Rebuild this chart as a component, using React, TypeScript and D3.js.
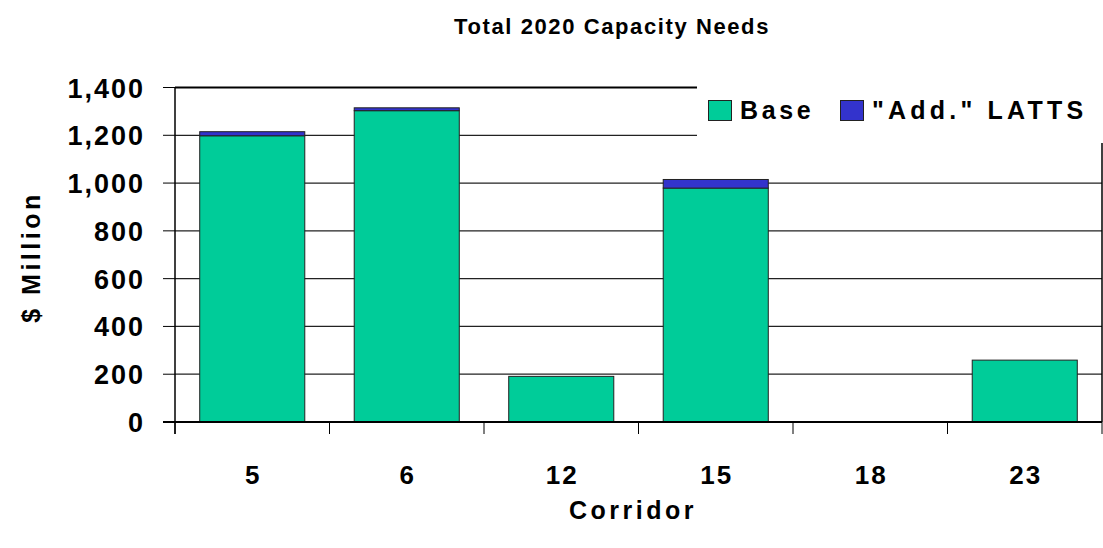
import React from "react";
import * as d3 from "d3";

const corridors = ["5", "6", "12", "15", "18", "23"];
const baseValues = [1198, 1303, 191, 979, 0, 259];
const addValues = [17, 12, 0, 36, 0, 0];
const yTicks = [0, 200, 400, 600, 800, 1000, 1200, 1400];
const seriesNames = ["Base", "\"Add.\" LATTS"];
const seriesColors = ["#00CC99", "#3333CC"];

const W = 1103;
const H = 548;
const left = 175;
const right = 1102;
const top = 87.5;
const bottom = 422;
const font = "'Liberation Sans', Arial, sans-serif";

export default function App() {
  const x = d3.scaleBand<string>().domain(corridors).range([left, right]).paddingInner(0.32).paddingOuter(0.16);
  const y = d3.scaleLinear().domain([0, 1400]).range([bottom, top]);
  const step = x.step();
  const fmt = d3.format(",");

  return (
    <div style={{ position: "absolute", left: 0, top: 0 }}>
      <svg width={W} height={H} style={{ display: "block", background: "#fff" }}>
        <text x={612} y={34} textAnchor="middle" fontFamily={font} fontWeight="bold" fontSize={22} letterSpacing={1.6}>
          Total 2020 Capacity Needs
        </text>

        {/* gridlines */}
        {yTicks.filter((t) => t > 0).map((t) => (
          <line key={t} x1={left} x2={right} y1={y(t)} y2={y(t)} stroke={t === 1400 ? "#000" : "#222"} strokeWidth={t === 1400 ? 2 : 1.2} />
        ))}
        <line x1={right} x2={right} y1={top} y2={bottom} stroke="#000" strokeWidth={1.5} />

        {/* stacked bars */}
        {corridors.map((c, i) => {
          const bx = x(c)!;
          const bw = x.bandwidth();
          const b = baseValues[i];
          const a = addValues[i];
          return (
            <g key={c}>
              {b > 0 && (
                <rect x={bx} y={y(b)} width={bw} height={y(0) - y(b)} fill={seriesColors[0]} stroke="#222" strokeWidth={1} />
              )}
              {a > 0 && (
                <rect x={bx} y={y(b + a)} width={bw} height={y(b) - y(b + a)} fill={seriesColors[1]} stroke="#222" strokeWidth={1} />
              )}
            </g>
          );
        })}

        {/* legend */}
        <rect x={697} y={80} width={406} height={63} fill="#fff" />
        <rect x={708.5} y={100.5} width={23} height={20} fill={seriesColors[0]} stroke="#222" strokeWidth={1} />
        <text x={740} y={119} fontFamily={font} fontWeight="bold" fontSize={25} letterSpacing={3.6}>
          {seriesNames[0]}
        </text>
        <rect x={840.5} y={100.5} width={23} height={20} fill={seriesColors[1]} stroke="#222" strokeWidth={1} />
        <text x={872} y={119} fontFamily={font} fontWeight="bold" fontSize={25} letterSpacing={4.2}>
          {seriesNames[1]}
        </text>

        {/* y axis */}
        <line x1={left} x2={left} y1={top} y2={bottom + 12} stroke="#000" strokeWidth={1.5} />
        {yTicks.map((t) => (
          <g key={t}>
            <line x1={left - 12} x2={left} y1={y(t)} y2={y(t)} stroke="#000" strokeWidth={1} />
            <text x={145} y={y(t) + 10} textAnchor="end" fontFamily={font} fontWeight="bold" fontSize={27} letterSpacing={2}>
              {fmt(t)}
            </text>
          </g>
        ))}

        {/* x axis */}
        <line x1={left - 12} x2={right} y1={bottom} y2={bottom} stroke="#000" strokeWidth={2} />
        {d3.range(corridors.length + 1).map((k) => (
          <line key={k} x1={left + k * step} x2={left + k * step} y1={bottom} y2={bottom + 12} stroke="#000" strokeWidth={1} />
        ))}
        {corridors.map((c) => (
          <text key={c} x={x(c)! + x.bandwidth() / 2 + 1} y={484} textAnchor="middle" fontFamily={font} fontWeight="bold" fontSize={26} letterSpacing={2}>
            {c}
          </text>
        ))}

        <text x={633} y={519} textAnchor="middle" fontFamily={font} fontWeight="bold" fontSize={25} letterSpacing={3.5}>
          Corridor
        </text>
        <text transform="translate(40,257) rotate(-90)" textAnchor="middle" fontFamily={font} fontWeight="bold" fontSize={25} letterSpacing={3.5}>
          $ Million
        </text>
      </svg>
    </div>
  );
}
